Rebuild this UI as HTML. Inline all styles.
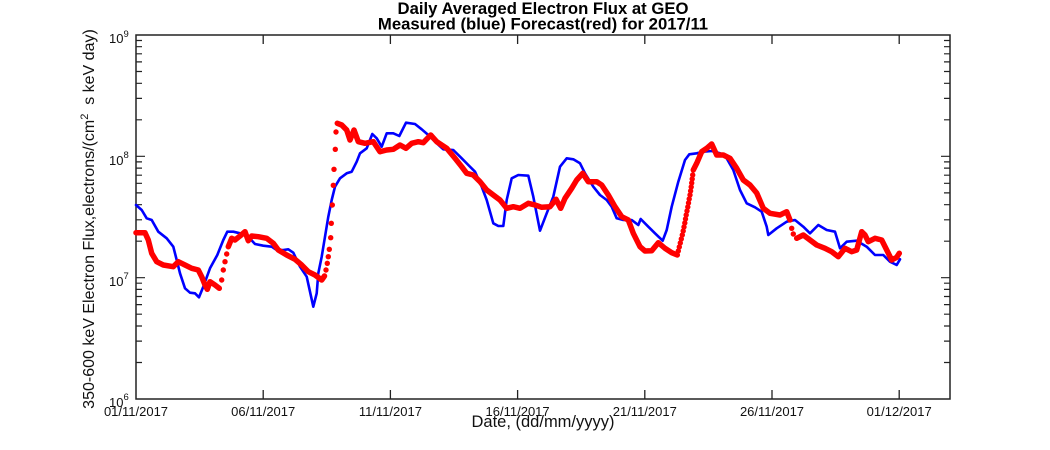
<!DOCTYPE html>
<html><head><meta charset="utf-8"><style>
html,body{margin:0;padding:0;background:#fff;}
svg{display:block;}
text{font-family:"Liberation Sans",Arial,sans-serif;fill:#111;}
</style></head><body>
<svg width="1050" height="450" viewBox="0 0 1050 450" xmlns="http://www.w3.org/2000/svg">
<rect width="1050" height="450" fill="#fff"/>
<!-- title -->
<text x="543" y="14" font-size="16.7" font-weight="bold" text-anchor="middle" style="fill:#000">Daily Averaged Electron Flux at GEO</text>
<text x="543" y="29.5" font-size="16.7" font-weight="bold" text-anchor="middle" style="fill:#000">Measured (blue) Forecast(red) for 2017/11</text>

<!-- axes box -->
<rect x="136" y="35" width="814" height="364" fill="none" stroke="#222" stroke-width="1.5"/>

<!-- x ticks -->
<g stroke="#222" stroke-width="1.3">
<path d="M263.2 399v-9M390.4 399v-9M517.6 399v-9M644.8 399v-9M772 399v-9M899.2 399v-9"/>
<path d="M263.2 35v9M390.4 35v9M517.6 35v9M644.8 35v9M772 35v9M899.2 35v9"/>
</g>
<!-- y ticks -->
<g stroke="#222" stroke-width="1.2">
<path d="M136 156.33h9M136 277.67h9M950 156.33h-9M950 277.67h-9"/>
<path d="
M136 362.5h6M136 341.1h6M136 326h6M136 314.2h6M136 304.6h6M136 296.5h6M136 289.4h6M136 283.2h6
M136 241.2h6M136 219.8h6M136 204.7h6M136 192.9h6M136 183.3h6M136 175.2h6M136 168.1h6M136 161.9h6
M136 119.8h6M136 98.4h6M136 83.3h6M136 71.5h6M136 61.9h6M136 53.8h6M136 46.7h6M136 40.5h6"/>
<path d="
M950 362.5h-6M950 341.1h-6M950 326h-6M950 314.2h-6M950 304.6h-6M950 296.5h-6M950 289.4h-6M950 283.2h-6
M950 241.2h-6M950 219.8h-6M950 204.7h-6M950 192.9h-6M950 183.3h-6M950 175.2h-6M950 168.1h-6M950 161.9h-6
M950 119.8h-6M950 98.4h-6M950 83.3h-6M950 71.5h-6M950 61.9h-6M950 53.8h-6M950 46.7h-6M950 40.5h-6"/>
</g>

<!-- y tick labels -->
<g font-size="13">
<text x="109" y="43">10<tspan dy="-6" font-size="9.5">9</tspan></text>
<text x="109" y="165">10<tspan dy="-7" font-size="9.5">8</tspan></text>
<text x="109" y="286">10<tspan dy="-7" font-size="9.5">7</tspan></text>
<text x="109" y="407">10<tspan dy="-7" font-size="9.5">6</tspan></text>
</g>

<!-- x tick labels -->
<g font-size="13" text-anchor="middle">
<text x="136" y="416">01/11/2017</text>
<text x="263.2" y="416">06/11/2017</text>
<text x="390.4" y="416">11/11/2017</text>
<text x="517.6" y="416">16/11/2017</text>
<text x="644.8" y="416">21/11/2017</text>
<text x="772" y="416">26/11/2017</text>
<text x="899.2" y="416">01/12/2017</text>
</g>

<!-- axis labels -->
<text x="543" y="427" font-size="16.5" text-anchor="middle">Date, (dd/mm/yyyy)</text>
<text transform="translate(94,219) rotate(-90)" font-size="16" text-anchor="middle">350-600 keV Electron Flux,electrons/(cm<tspan dy="-6" font-size="11">2</tspan><tspan dy="6" xml:space="preserve">  s keV day)</tspan></text>

<!-- blue measured -->
<polyline fill="none" stroke="#0000ff" stroke-width="2.6" stroke-linejoin="round" stroke-linecap="round" points="
136,205 141.7,210 146.7,218.3 151.7,220 158.3,231.7 166.7,238.3 173.3,246.7 176.7,260 180,273.3 185,288.3 190,292.7 195,293.3 199,297.3 203.3,286.7 210,268.3 217.3,255 223.3,240 227.3,231.7 233.3,231.7 240,233.3 248.3,236.7 255,244 263.3,245.7 271.7,246.7 276.7,250 283.3,250 288.3,249.3 293.3,252.7 300,266.7 306.7,276.7 313.3,306.7 316.7,293.3 318.3,273.3 321.7,256.7 325,236.7 328.3,216.7 331.7,200 335,186.7 340,178.3 346.7,173.3 351.7,171.7 356.7,161.7 360,153.3 366.7,148.3 372.3,134 376.7,138.3 381.7,146.7 386.7,133.3 393.3,133.3 399.3,136 406,122.7 415,124 421.7,129.3 428.3,135 436.7,143.3 443.3,149.3 453.3,150 461.7,158.3 468.3,165 475,171.7 481.7,186.7 486.7,200 493.3,223.3 498.3,226 503.3,226 506.7,200 511.7,178.3 518.3,175 528.3,175.7 533.3,196.7 540,230.7 546.7,213.3 553.3,196.7 560,166.7 566.7,158.3 573.3,159.3 580,163.3 585,173.3 593.3,186.7 600,195 606.7,200 611.7,206.7 616.7,218.3 623.3,220 631.7,220 638.3,225 640.7,219 648.3,226.7 655,233.3 662.7,240.7 666.7,230 671.7,206.7 678.3,181.7 685,160 689.3,154.3 696.7,153.3 703.3,151.7 711.7,151 720,153.3 726.7,158.3 733.3,170 740,190 746.7,203.3 755,207.3 761.7,211.7 766.7,226.7 768.3,235 776.7,228.3 786.7,221.7 795,220 803.3,226.7 810,233.3 818.3,225 826.7,230 835,231.7 840,248.3 846.7,241.7 856.7,240.7 866.7,246.7 875,255 883.3,255 890,261.7 896.7,265 900,259.3"/>

<!-- red forecast -->
<g fill="none" stroke="#ff0000" stroke-width="5.5" stroke-linejoin="round" stroke-linecap="round">
<polyline points="136,232.7 145,232.7 148.3,240 151.7,253.3 156.7,261.7 163.3,265 173.3,266.7 178.3,261.7 185,265 191.7,268.3 198.3,270 201.7,276.7 205,285 207.3,289.3 210,281.7 215,285 219.3,288.3"/>
<polyline points="228.3,246.7 231.7,238.3 235,240 240,236 245,231.7 248.3,240.7 251.7,236 258.3,236.7 266.7,238.3 273.3,243.3 278.3,250 286.7,255 295,259.3 301.7,265 308.3,271.7 315,275 321.7,280 324.5,276"/>
<polyline points="337.3,123.3 341.7,125 346.7,130 350,140 354,130 358.3,141.7 365,143.3 373.3,141.7 380,151.7 386.7,150 393.3,149.3 400,145 406,148.3 411.7,143.3 418.3,141.7 423.3,142.7 430.7,135 436.7,141.7 446.7,148.3 455,158.3 461.7,166.7 466.7,173.3 473.3,175 480,181.7 486.7,190 493.3,195 500,200 506.7,208.3 513.3,206.7 520,208.3 528.3,203.3 535,205 541.7,207.3 550,206.7 556,199.3 560.7,208.3 565,198.3 571.7,188.3 576.7,180 582.7,173.3 588.3,181.7 596.7,181.7 601.7,185 608.3,195 615,206.7 621.7,216.7 628.3,220 633.3,233.3 640,246.7 645,251 651.7,250.7 658.3,242.7 665,248.3 671.7,252.7 677.3,255"/>
<polyline points="693.3,170 696.7,163.3 701.7,151.7 706.7,148.3 711.7,144 716.7,155 723.3,155 730,158.3 736.7,168.3 743.3,180 750,185 756.7,193 763.3,208.3 770,213.3 780,215 786.7,211.7 790,220"/>
<polyline points="796.7,238.3 803.3,235 810,240 816.7,245 825,248.3 831.7,251.7 838.3,256.7 845,248.3 851.7,251.7 856.7,250 861.7,231.7 865,235 868.3,241.7 875,238.3 881.7,240 886.7,250 891.7,260 896.7,257.3 899.3,253.3"/>
</g>
<g fill="#ff0000">
<circle cx="221.7" cy="280" r="2.7"/><circle cx="223.3" cy="270" r="2.7"/><circle cx="225" cy="261.7" r="2.7"/><circle cx="226.7" cy="254" r="2.7"/>
<circle cx="326" cy="270" r="2.7"/><circle cx="327.3" cy="263.3" r="2.7"/><circle cx="328.3" cy="256.7" r="2.7"/><circle cx="329.3" cy="249.3" r="2.7"/><circle cx="330.7" cy="237.7" r="2.7"/><circle cx="331.3" cy="223.3" r="2.7"/><circle cx="332.3" cy="205" r="2.7"/><circle cx="333.3" cy="185.3" r="2.7"/><circle cx="334" cy="169.3" r="2.7"/><circle cx="335.3" cy="149.3" r="2.7"/><circle cx="336" cy="132" r="2.7"/>
<circle cx="678.3" cy="251" r="2.7"/><circle cx="679.3" cy="247" r="2.7"/><circle cx="680.3" cy="243" r="2.7"/><circle cx="681.3" cy="239" r="2.7"/><circle cx="682.3" cy="235" r="2.7"/><circle cx="683.2" cy="231" r="2.7"/><circle cx="684" cy="227" r="2.7"/><circle cx="684.8" cy="223" r="2.7"/><circle cx="685.5" cy="219" r="2.7"/><circle cx="686.2" cy="215" r="2.7"/><circle cx="687" cy="211" r="2.7"/><circle cx="687.8" cy="207" r="2.7"/><circle cx="688.5" cy="203" r="2.7"/><circle cx="689.2" cy="199" r="2.7"/><circle cx="690" cy="195" r="2.7"/><circle cx="690.6" cy="191" r="2.7"/><circle cx="691.2" cy="187" r="2.7"/><circle cx="691.7" cy="183" r="2.7"/><circle cx="692.2" cy="179" r="2.7"/><circle cx="692.7" cy="175" r="2.7"/>
<circle cx="791.7" cy="228.3" r="2.7"/><circle cx="793.3" cy="234" r="2.7"/>
</g>
</svg>
</body></html>
